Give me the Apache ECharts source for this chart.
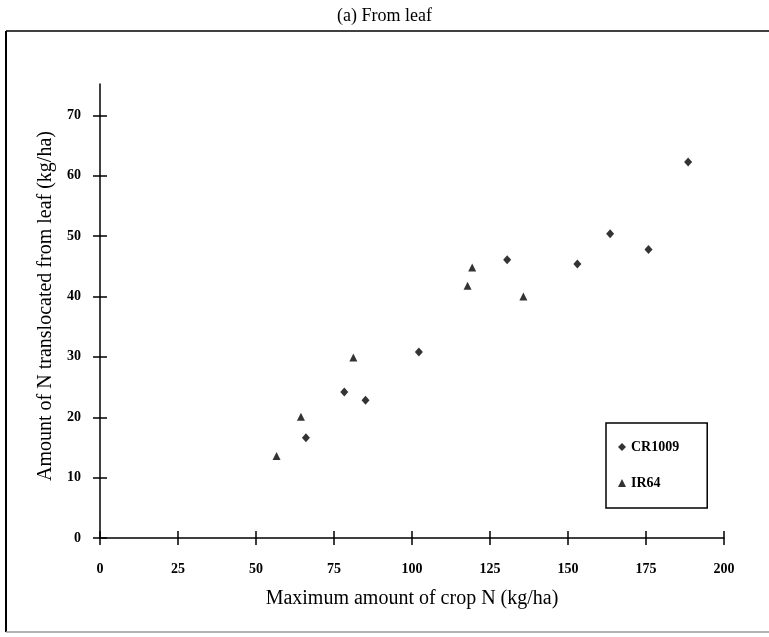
<!DOCTYPE html>
<html>
<head>
<meta charset="utf-8">
<script src="https://cdn.jsdelivr.net/npm/echarts@6/dist/echarts.min.js"></script>
<style>
html,body{margin:0;padding:0;background:#fff;}
#chart{width:769px;height:637px;}
</style>
</head>
<body>
<div id="chart"></div>
<script>
var titleText = '(a) From leaf';
var xAxisTitle = 'Maximum amount of crop N (kg/ha)';
var yAxisTitle = 'Amount of N translocated from leaf (kg/ha)';
var seriesNames = ['CR1009', 'IR64'];
var xTicks = [0, 25, 50, 75, 100, 125, 150, 175, 200];
var yTicks = [0, 10, 20, 30, 40, 50, 60, 70];
var cr1009X = [66.0, 78.3, 85.1, 102.2, 130.5, 153.0, 163.5, 175.8, 188.5];
var cr1009Y = [16.6, 24.2, 22.8, 30.8, 46.1, 45.4, 50.4, 47.8, 62.3];
var ir64X = [56.6, 64.4, 81.2, 117.8, 119.3, 135.7];
var ir64Y = [13.6, 20.1, 29.9, 41.8, 44.8, 40.0];

function pairs(xs, ys){ return xs.map(function(x,i){ return [x, ys[i]]; }); }

var font = 'Liberation Serif';
var chart = echarts.init(document.getElementById('chart'), null, {renderer:'canvas'});
var tickLab = {fontFamily: font, fontWeight: 'bold', fontSize: 14, color: '#000'};
chart.setOption({
  animation: false,
  backgroundColor: '#fff',
  title: {
    text: titleText, left: 'center', top: 2,
    textStyle: {fontFamily: font, fontWeight: 'normal', fontSize: 18, color: '#000'}
  },
  grid: {left: 100, top: 84, width: 624, height: 454},
  legend: {
    orient: 'vertical', left: 606, top: 423,
    data: seriesNames,
    itemWidth: 8, itemHeight: 8, itemGap: 22, itemTextGap: 10,
    padding: [17, 28, 18, 12],
    borderColor: '#000', borderWidth: 1.5, backgroundColor: '#fff',
    textStyle: {fontFamily: font, fontWeight: 'bold', fontSize: 14, color: '#000', lineHeight: 14}
  },
  xAxis: [{
    type: 'value', min: 0, max: 200, interval: 25,
    name: xAxisTitle, nameLocation: 'middle', nameGap: 51,
    nameTextStyle: {fontFamily: font, fontSize: 20, color: '#000'},
    axisLine: {show: true, onZero: false, lineStyle: {color: '#000', width: 1.5}},
    axisTick: {show: true, length: 7, lineStyle: {color: '#000', width: 1.5}, customValues: xTicks},
    axisLabel: Object.assign({margin: 24, customValues: xTicks}, tickLab),
    splitLine: {show: false}
  }, {
    type: 'value', min: 0, max: 200, interval: 25, position: 'bottom',
    axisLine: {show: false},
    axisTick: {show: true, inside: true, length: 7, lineStyle: {color: '#000', width: 1.5}, customValues: xTicks},
    axisLabel: {show: false},
    splitLine: {show: false}
  }],
  yAxis: [{
    type: 'value', min: 0, max: 75.2, interval: 10,
    name: yAxisTitle, nameLocation: 'middle', nameGap: 41,
    nameTextStyle: {fontFamily: font, fontSize: 20, color: '#000', padding: [0, 0, 0, 10]},
    axisLine: {show: true, onZero: false, lineStyle: {color: '#000', width: 1.5}},
    axisTick: {show: true, length: 7, lineStyle: {color: '#000', width: 1.5}, customValues: yTicks},
    axisLabel: Object.assign({margin: 19, customValues: yTicks}, tickLab),
    splitLine: {show: false}
  }, {
    type: 'value', min: 0, max: 75.2, interval: 10, position: 'left',
    axisLine: {show: false},
    axisTick: {show: true, inside: true, length: 7, lineStyle: {color: '#000', width: 1.5}, customValues: yTicks},
    axisLabel: {show: false},
    splitLine: {show: false}
  }],
  graphic: [
    {type: 'line', shape: {x1: 6, y1: 31, x2: 769, y2: 31}, style: {stroke: '#000', lineWidth: 1.5}},
    {type: 'line', shape: {x1: 6, y1: 31, x2: 6, y2: 632}, style: {stroke: '#000', lineWidth: 2}},
    {type: 'line', shape: {x1: 6, y1: 632, x2: 769, y2: 632}, style: {stroke: '#999', lineWidth: 1.5}}
  ],
  series: [{
    name: seriesNames[0], type: 'scatter', xAxisIndex: 0, yAxisIndex: 0,
    symbol: 'diamond', symbolSize: [8, 9],
    itemStyle: {color: '#000'},
    data: pairs(cr1009X, cr1009Y)
  }, {
    name: seriesNames[1], type: 'scatter', xAxisIndex: 0, yAxisIndex: 0,
    symbol: 'triangle', symbolSize: 8,
    itemStyle: {color: '#000'},
    data: pairs(ir64X, ir64Y)
  }]
});
</script>
</body>
</html>
